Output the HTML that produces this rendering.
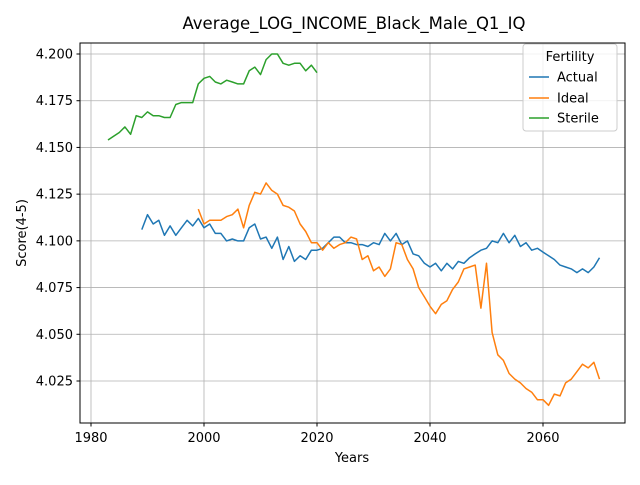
<!DOCTYPE html>
<html><head><meta charset="utf-8"><style>
body{margin:0;background:#fff;font-family:"Liberation Sans","DejaVu Sans",sans-serif}
svg text{font-family:"DejaVu Sans","Liberation Sans",sans-serif}
</style></head><body>
<svg id="chart" width="640" height="480" xmlns="http://www.w3.org/2000/svg">
<rect width="640" height="480" fill="#fff"/>
<text x="354" y="29" font-size="16.5" text-anchor="middle">Average_LOG_INCOME_Black_Male_Q1_IQ</text>
<g id="grid"></g><g id="series"></g>
<rect x="80" y="43" width="545" height="380" fill="none" stroke="#000" stroke-width="1"/>
<g id="ticks"></g>
<text x="352" y="462" font-size="13" text-anchor="middle">Years</text>
<text x="26" y="233" font-size="13" text-anchor="middle" transform="rotate(-90 26 233)">Score(4-5)</text>
<g>
<rect x="523" y="44" width="94" height="87" rx="3" fill="#fff" fill-opacity="0.8" stroke="#ccc"/>
<text x="570" y="61" font-size="13" text-anchor="middle">Fertility</text>
<g><line x1="529" y1="77" x2="549" y2="77" stroke="#1f77b4" stroke-width="1.5"/><text x="557" y="81.5" font-size="13">Actual</text></g>
<g><line x1="529" y1="98" x2="549" y2="98" stroke="#ff7f0e" stroke-width="1.5"/><text x="557" y="102.5" font-size="13">Ideal</text></g>
<g><line x1="529" y1="118" x2="549" y2="118" stroke="#2ca02c" stroke-width="1.5"/><text x="557" y="122.5" font-size="13">Sterile</text></g>
</g>
</svg>
<script>
const xTicks=[1980,2000,2020,2040,2060];
const yTicks=[4.025,4.050,4.075,4.100,4.125,4.150,4.175,4.200];
const sterileStart=1983;
const sterile=[4.154,4.156,4.158,4.161,4.157,4.167,4.166,4.169,4.167,4.167,4.166,4.166,4.173,4.174,4.174,4.174,4.184,4.187,4.188,4.185,4.184,4.186,4.185,4.184,4.184,4.191,4.193,4.189,4.197,4.2,4.2,4.195,4.194,4.195,4.195,4.191,4.194,4.190];
const actualStart=1989;
const actual=[4.106,4.114,4.109,4.111,4.103,4.108,4.103,4.107,4.111,4.108,4.112,4.107,4.109,4.104,4.104,4.100,4.101,4.100,4.100,4.107,4.109,4.101,4.102,4.096,4.102,4.090,4.097,4.089,4.092,4.090,4.095,4.095,4.096,4.099,4.102,4.102,4.099,4.099,4.098,4.098,4.097,4.099,4.098,4.104,4.100,4.104,4.098,4.100,4.093,4.092,4.088,4.086,4.088,4.084,4.088,4.085,4.089,4.088,4.091,4.093,4.095,4.096,4.100,4.099,4.104,4.099,4.103,4.097,4.099,4.095,4.096,4.094,4.092,4.090,4.087,4.086,4.085,4.083,4.085,4.083,4.086,4.091];
const idealStart=1999;
const ideal=[4.117,4.109,4.111,4.111,4.111,4.113,4.114,4.117,4.107,4.119,4.126,4.125,4.131,4.127,4.125,4.119,4.118,4.116,4.109,4.105,4.099,4.099,4.095,4.099,4.096,4.098,4.099,4.102,4.101,4.090,4.092,4.084,4.086,4.081,4.085,4.099,4.098,4.090,4.085,4.075,4.070,4.065,4.061,4.066,4.068,4.074,4.078,4.085,4.086,4.087,4.064,4.088,4.051,4.039,4.036,4.029,4.026,4.024,4.021,4.019,4.015,4.015,4.012,4.018,4.017,4.024,4.026,4.030,4.034,4.032,4.035,4.026];
const NS="http://www.w3.org/2000/svg";
function sx(y){return 91+(y-1980)*(543-91)/80;}
function sy(v){return 54+(4.2-v)*(381-54)/0.175;}
function mk(t,a,p){const e=document.createElementNS(NS,t);for(const k in a)e.setAttribute(k,a[k]);p.appendChild(e);return e;}
const grid=document.getElementById('grid'),ticks=document.getElementById('ticks'),ser=document.getElementById('series');
xTicks.forEach(t=>{const x=sx(t);
const g=mk('line',{x1:x,x2:x,y1:43,y2:423,stroke:'#b0b0b0','stroke-width':0.8},grid);


mk('line',{x1:x,x2:x,y1:423,y2:426.5,stroke:'#000'},ticks);
const l=mk('text',{x:x,y:442,'font-size':13,'text-anchor':'middle'},ticks);l.textContent=t;

});
yTicks.forEach(t=>{const y=sy(t);
const g=mk('line',{x1:80,x2:625,y1:y,y2:y,stroke:'#b0b0b0','stroke-width':0.8},grid);


mk('line',{x1:76.5,x2:80,y1:y,y2:y,stroke:'#000'},ticks);
const l=mk('text',{x:73,y:y+4.5,'font-size':13,'text-anchor':'end'},ticks);l.textContent=t.toFixed(3);

});
function line(vals,start,color,name){const pts=vals.map((v,i)=>sx(start+i).toFixed(1)+','+sy(v).toFixed(1)).join(' ');
const p=mk('polyline',{points:pts,fill:'none',stroke:color,'stroke-width':1.5,'stroke-linejoin':'round'},ser);

}
line(actual,actualStart,'#1f77b4','actual-line');
line(ideal,idealStart,'#ff7f0e','ideal-line');
line(sterile,sterileStart,'#2ca02c','sterile-line');
</script>
</body></html>
